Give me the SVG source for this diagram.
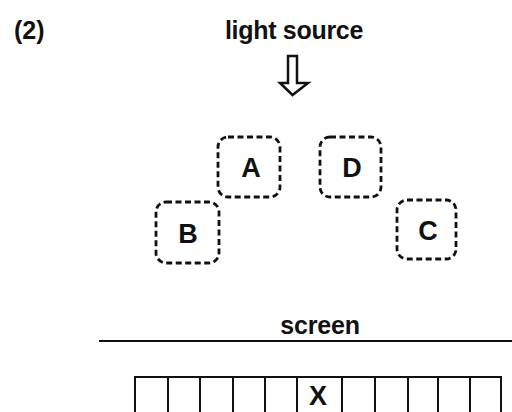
<svg xmlns="http://www.w3.org/2000/svg" width="512" height="412" viewBox="0 0 512 412">
<style>
text{font-family:"Liberation Sans",Arial,sans-serif;font-weight:bold;fill:#111}
.lbl{font-size:25px}
.nl{font-size:27px}
.box{fill:none;stroke:#111;stroke-width:2.8;stroke-dasharray:6 3.5}
.cell{fill:none;stroke:#111;stroke-width:2}
</style>
<rect width="512" height="412" fill="#fff"/>
<text x="14" y="39" font-size="25">(2)</text>
<text x="294" y="39" class="lbl" text-anchor="middle" letter-spacing="-0.3">light source</text>
<g id="arrow">
<path d="M288,56 H297 V83 H308 L292.5,95 L280,83 H288 Z" fill="none" stroke="#111" stroke-width="2.5" stroke-linejoin="miter"/>
</g>
<g id="A"><rect class="box" x="218" y="137" width="62" height="60" rx="10"/><text x="251" y="177" class="nl" text-anchor="middle">A</text></g>
<g id="D"><rect class="box" x="320" y="137" width="61" height="60" rx="10"/><text x="352" y="177" class="nl" text-anchor="middle">D</text></g>
<g id="B"><rect class="box" x="156" y="202" width="63" height="61" rx="10"/><text x="188" y="243" class="nl" text-anchor="middle">B</text></g>
<g id="C"><rect class="box" x="397" y="200" width="59" height="59" rx="10"/><text x="428" y="240" class="nl" text-anchor="middle">C</text></g>
<g id="screen">
<text x="320" y="334" class="lbl" text-anchor="middle" letter-spacing="-0.2">screen</text>
<line x1="99" y1="341" x2="512" y2="341" stroke="#111" stroke-width="2.2"/>
</g>
<g id="cells">
<rect class="cell" x="135" y="377" width="366" height="45"/>
<path class="cell" d="M168,377V412M200,377V412M233,377V412M265,377V412M297,377V412M342,377V412M375,377V412M408,377V412M438,377V412M470,377V412"/>
<text x="318" y="405" class="nl" text-anchor="middle">X</text>
</g>
<g id="connectors"></g>
</svg>
